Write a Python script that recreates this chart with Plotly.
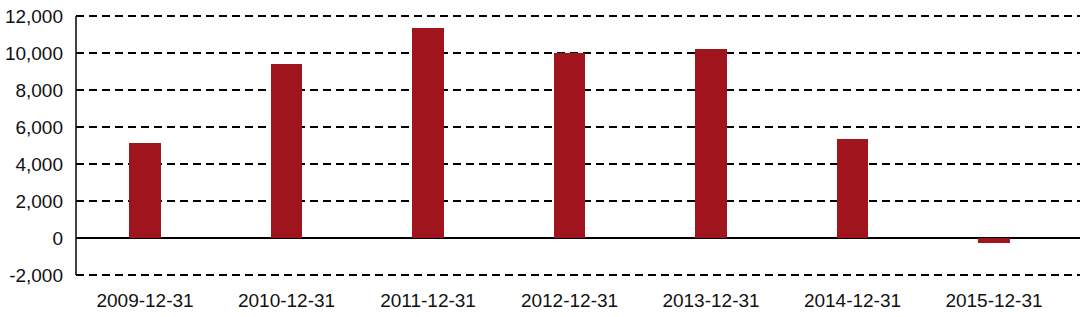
import plotly.graph_objects as go

categories = ["2009-12-31", "2010-12-31", "2011-12-31", "2012-12-31",
              "2013-12-31", "2014-12-31", "2015-12-31"]
values = [5130, 9400, 11330, 10000, 10200, 5360, -270]
y_ticks = [-2000, 0, 2000, 4000, 6000, 8000, 10000, 12000]
y_tick_labels = ["-2,000", "0", "2,000", "4,000", "6,000", "8,000", "10,000", "12,000"]

fig = go.Figure(go.Bar(
    x=categories, y=values, width=0.22,
    marker=dict(color="#A0141E", line=dict(width=0)),
))

fig.update_layout(
    width=1080, height=317,
    margin=dict(l=76, r=0, t=14, b=40),
    paper_bgcolor="white", plot_bgcolor="white",
    font=dict(family="Liberation Sans, Arial, sans-serif", size=19, color="#111111"),
    showlegend=False,
    bargap=0,
)
fig.update_xaxes(
    type="category", range=[-0.488, 6.608],
    showgrid=False, showline=False, ticks="", ticklabelstandoff=10,
    zeroline=False,
)
fig.update_yaxes(
    range=[-2108, 12108], tickvals=y_ticks, ticktext=y_tick_labels,
    showgrid=True, gridcolor="black", gridwidth=1.5, griddash="8px,5px",
    zeroline=True, zerolinecolor="black", zerolinewidth=1.5,
    showline=False,
    ticks="", ticklabelstandoff=12,
)
# vertical axis line spanning the tick range only
fig.add_shape(type="line", xref="paper", yref="y",
              x0=0, x1=0, y0=y_ticks[0], y1=y_ticks[-1],
              line=dict(color="black", width=1.5))

fig.write_html("out.html")
